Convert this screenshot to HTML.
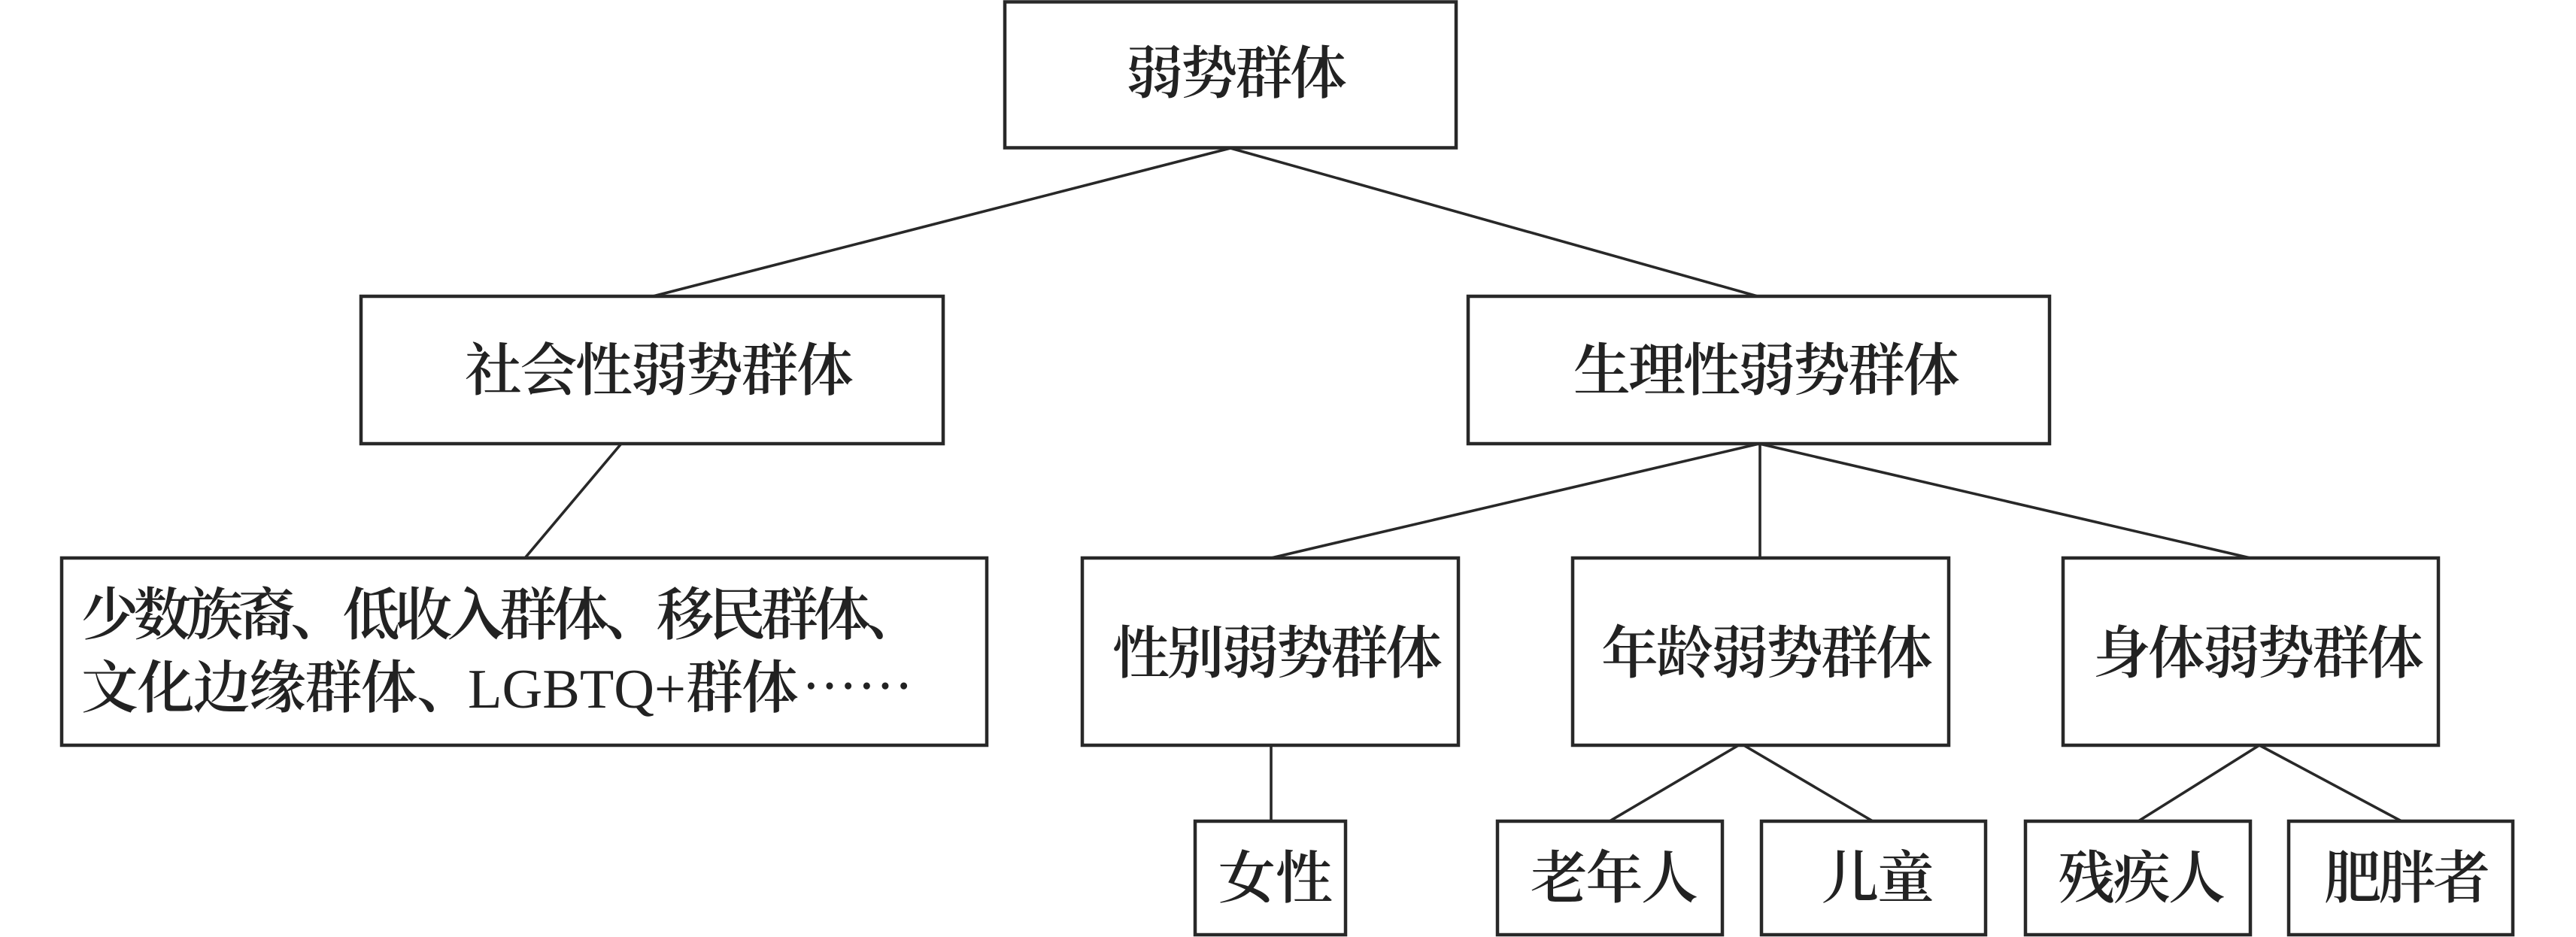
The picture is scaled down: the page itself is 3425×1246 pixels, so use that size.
<!DOCTYPE html>
<html>
<head>
<meta charset="utf-8">
<style>
  html, body { margin: 0; padding: 0; background: #ffffff; }
  body { width: 3425px; height: 1246px; overflow: hidden; }
  svg { display: block; }
  .b { fill: #ffffff; stroke: #282828; stroke-width: 4.5; }
  .l { stroke: #282828; stroke-width: 3.6; fill: none; }
  .t { font-family: "Liberation Serif", "Noto Serif CJK SC", serif; font-size: 76px; font-weight: 600; fill: #222222; }
  .c { font-family: "Noto Serif CJK SC", serif; font-size: 76px; font-weight: 600; fill: #222222; }
  .e { font-family: "Noto Serif CJK SC", serif; font-size: 76px; font-weight: 900; fill: #222222; }
  .lat { font-family: "Liberation Serif", serif; font-size: 74px; font-weight: 400; fill: #222222; }
</style>
</head>
<body>
<svg width="3425" height="1246" viewBox="0 0 3425 1246" xmlns="http://www.w3.org/2000/svg">
  <!-- connectors -->
  <line class="l" x1="1636" y1="197" x2="868" y2="394"/>
  <line class="l" x1="1636" y1="197" x2="2337" y2="394"/>
  <line class="l" x1="826" y1="590" x2="698" y2="742"/>
  <line class="l" x1="2339" y1="590" x2="1690" y2="742"/>
  <line class="l" x1="2340" y1="590" x2="2340" y2="742"/>
  <line class="l" x1="2339" y1="590" x2="2992" y2="742"/>
  <line class="l" x1="1690" y1="991" x2="1690" y2="1092"/>
  <line class="l" x1="2315" y1="989" x2="2140" y2="1092"/>
  <line class="l" x1="2315" y1="989" x2="2490" y2="1092"/>
  <line class="l" x1="3004" y1="991" x2="2843" y2="1092"/>
  <line class="l" x1="3004" y1="991" x2="3193" y2="1092"/>

  <!-- boxes -->
  <rect class="b" x="1336" y="2.5" width="600" height="194"/>
  <rect class="b" x="480" y="394" width="774" height="196"/>
  <rect class="b" x="1952" y="394" width="773" height="196"/>
  <rect class="b" x="82" y="742" width="1230" height="249"/>
  <rect class="b" x="1439" y="742" width="500" height="249"/>
  <rect class="b" x="2091" y="742" width="500" height="249"/>
  <rect class="b" x="2743" y="742" width="499" height="249"/>
  <rect class="b" x="1589" y="1092" width="200" height="151"/>
  <rect class="b" x="1991" y="1092" width="299" height="151"/>
  <rect class="b" x="2342" y="1092" width="298" height="151"/>
  <rect class="b" x="2693" y="1092" width="299" height="151"/>
  <rect class="b" x="3043" y="1092" width="298" height="151"/>

  <!-- labels -->
  <text class="c" x="1497" y="124" textLength="294" lengthAdjust="spacing">弱势群体</text>
  <text class="c" x="618" y="519" textLength="517" lengthAdjust="spacing">社会性弱势群体</text>
  <text class="c" x="2092" y="519" textLength="514" lengthAdjust="spacing">生理性弱势群体</text>

  <text class="c" x="108" y="844" textLength="1119" lengthAdjust="spacing">少数族裔、低收入群体、移民群体、</text>
  <text class="c" x="108" y="941" textLength="522" lengthAdjust="spacing">文化边缘群体、</text>
  <text class="lat" x="622" y="941" textLength="290" lengthAdjust="spacingAndGlyphs">LGBTQ+</text>
  <text class="c" x="912" y="941" textLength="150" lengthAdjust="spacing">群体</text>
  <text class="e" x="1066" y="941" textLength="148" lengthAdjust="spacingAndGlyphs">……</text>

  <text class="c" x="1479" y="895" textLength="439" lengthAdjust="spacing">性别弱势群体</text>
  <text class="c" x="2129" y="895" textLength="441" lengthAdjust="spacing">年龄弱势群体</text>
  <text class="c" x="2783" y="895" textLength="440" lengthAdjust="spacing">身体弱势群体</text>

  <text class="c" x="1620" y="1194" textLength="152" lengthAdjust="spacing">女性</text>
  <text class="c" x="2035" y="1194" textLength="223" lengthAdjust="spacing">老年人</text>
  <text class="c" x="2422" y="1194" textLength="150" lengthAdjust="spacing">儿童</text>
  <text class="c" x="2736" y="1194" textLength="223" lengthAdjust="spacing">残疾人</text>
  <text class="c" x="3090" y="1194" textLength="221" lengthAdjust="spacing">肥胖者</text>
</svg>
</body>
</html>
